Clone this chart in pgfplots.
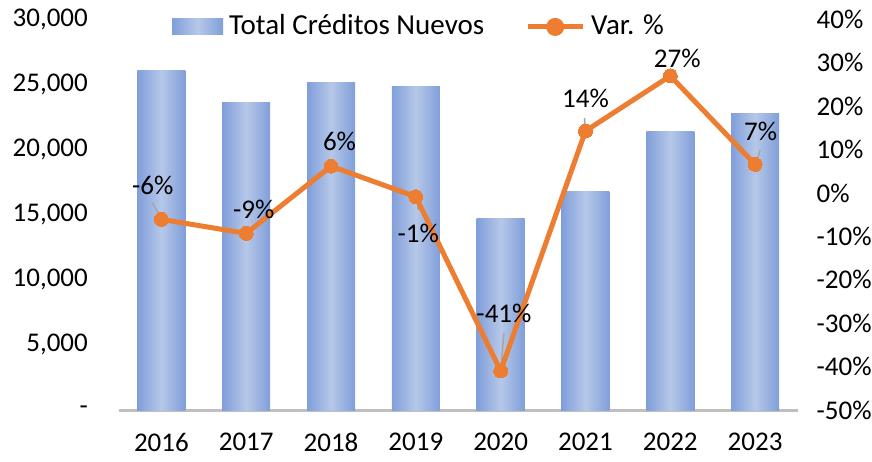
\documentclass[border=0pt]{standalone}
\usepackage{pgfplots}
\pgfplotsset{compat=1.18}
\usepackage{fontspec}
\setmainfont{Carlito}
\definecolor{barEdge}{RGB}{128,158,218}
\definecolor{barMid}{RGB}{182,200,232}
\definecolor{lineOr}{RGB}{237,125,49}
\definecolor{axGray}{RGB}{191,191,191}
\definecolor{leadGray}{RGB}{166,166,166}
\pgfplotsset{gbar/.style={ybar, bar width=0.566, draw=none, left color=barEdge, right color=barEdge, middle color=barMid}}
\begin{document}
\fontsize{27}{32}\selectfont
\begin{tikzpicture}
\useasboundingbox (-119pt,-51pt) rectangle (753pt,410pt);
\begin{axis}[
  at={(0,0)}, anchor=south west,
  scale only axis, width=678.5pt, height=390.5pt,
  xmin=-0.5, xmax=7.5, ymin=0, ymax=30000,
  axis line style={draw=none}, tick style={draw=none},
  scaled y ticks=false,
  xtick={0,1,2,3,4,5,6,7},
  xticklabels={2016,2017,2018,2019,2020,2021,2022,2023},
  xticklabel style={anchor=north, inner sep=0pt, yshift=-23pt},
  ytick={0,5000,10000,15000,20000,25000,30000},
  yticklabels={-,{5,000},{10,000},{15,000},{20,000},{25,000},{30,000}},
  yticklabel style={anchor=east, inner sep=0pt, xshift=-31pt},
  clip=false,
]
\draw[axGray, line width=3pt] (axis cs:-0.5,0) -- (axis cs:7.5,0);
\addplot[gbar] coordinates {(0,26060)};
\addplot[gbar] coordinates {(1,23630)};
\addplot[gbar] coordinates {(2,25140)};
\addplot[gbar] coordinates {(3,24880)};
\addplot[gbar] coordinates {(4,14720)};
\addplot[gbar] coordinates {(5,16820)};
\addplot[gbar] coordinates {(6,21430)};
\addplot[gbar] coordinates {(7,22810)};
\end{axis}
\begin{axis}[
  at={(0,0)}, anchor=south west,
  scale only axis, width=678.5pt, height=390.5pt,
  xmin=-0.5, xmax=7.5, ymin=-50, ymax=40,
  axis line style={draw=none}, tick style={draw=none},
  xtick=\empty,
  ytick={-50,-40,-30,-20,-10,0,10,20,30,40},
  yticklabel pos=right,
  yticklabel={\pgfmathprintnumber[assume math mode=true]{\tick}\%},
  yticklabel style={anchor=west, inner sep=0pt, xshift=19pt},
  clip=false,
  legend columns=2,
  legend style={at={(0.4407,0.981)}, anchor=center, draw=none, fill=none,
    inner sep=0pt, outer sep=0pt, nodes={inner sep=0pt},
    font=\fontsize{29}{34}\selectfont,
    /tikz/every odd column/.append style={column sep=6pt},
    /tikz/every even column/.append style={column sep=41pt}},
]
\addlegendimage{draw=none, legend image code/.code={\path[draw=none, left color=barEdge,right color=barEdge,middle color=barMid] (0pt,-8pt) rectangle (51pt,8pt);}}
\addlegendentry{Total Créditos Nuevos}
% leader lines
\draw[leadGray, line width=1.5pt] (axis cs:0,-6.06) ++(-1pt,1.3pt) -- ++(-7.7pt,15pt);
\draw[leadGray, line width=1.5pt] (axis cs:3,-0.85) ++(2pt,0pt) -- ++(0pt,-13pt);
\draw[leadGray, line width=1.5pt] (axis cs:4,-41.0) ++(0.3pt,4pt) -- ++(3pt,34pt);
\draw[leadGray, line width=1.5pt] (axis cs:5,14.3) ++(0pt,1pt) -- ++(-1pt,12pt);
\draw[leadGray, line width=1.5pt] (axis cs:7,6.6) ++(1pt,1.3pt) -- ++(4pt,13pt);
\addplot[lineOr, line width=5pt, line join=round, mark=*, mark size=7pt,
  mark options={fill=lineOr, draw=lineOr, line width=0pt},
  legend image code/.code={\draw[lineOr, line width=5pt] (0pt,0pt) -- (55pt,0pt); \fill[lineOr] (27.5pt,0pt) circle (6.5pt);}]
  coordinates {(0,-6.06) (1,-9.3) (2,6.2) (3,-0.85) (4,-41.0) (5,14.3) (6,27.0) (7,6.6)};
\addlegendentry{Var. \%}
\node at (axis cs:0,-6.06) [xshift=-8.7pt, yshift=34.3pt] {-6\%};
\node at (axis cs:1,-9.3) [xshift=7.5pt, yshift=24.3pt] {-9\%};
\node at (axis cs:2,6.2) [xshift=8.5pt, yshift=24.3pt] {6\%};
\node at (axis cs:3,-0.85) [xshift=2.5pt, yshift=-36.3pt] {-1\%};
\node at (axis cs:4,-41.0) [xshift=3.3pt, yshift=57.7pt] {-41\%};
\node at (axis cs:5,14.3) [xshift=0pt, yshift=32.7pt] {14\%};
\node at (axis cs:6,27.0) [xshift=7pt, yshift=17.7pt] {27\%};
\node at (axis cs:7,6.6) [xshift=5.5pt, yshift=32.6pt] {7\%};
\end{axis}
\end{tikzpicture}
\end{document}
